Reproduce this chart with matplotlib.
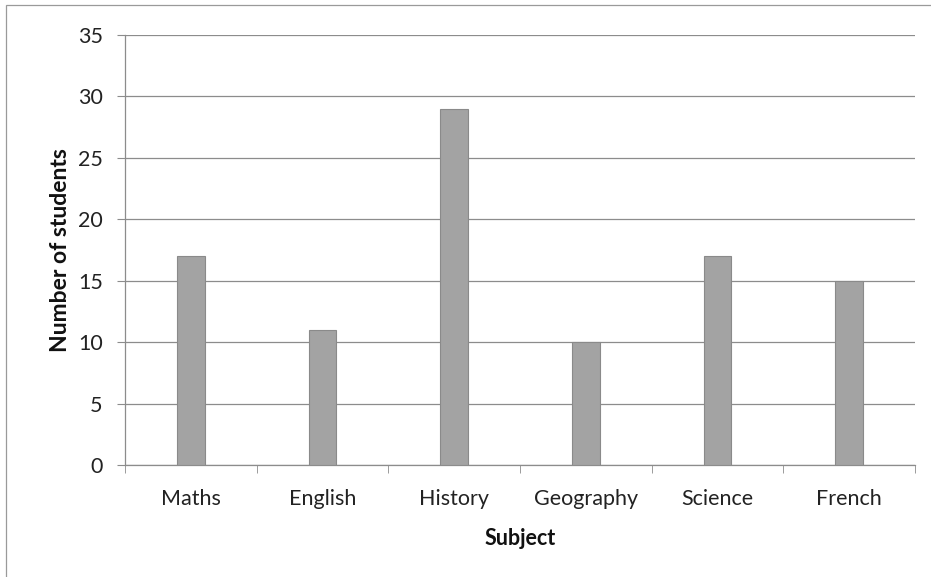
import numpy as np
import matplotlib.pyplot as plt
from matplotlib.patches import Rectangle

subjects = ['Maths', 'English', 'History', 'Geography', 'Science', 'French']
students = [17, 11, 29, 10, 17, 15]
y_ticks = [0, 5, 10, 15, 20, 25, 30, 35]

plt.rcParams['font.family'] = ['Lato', 'DejaVu Sans']

fig = plt.figure(figsize=(9.31, 5.77), dpi=100)
ax = fig.add_axes([125 / 931, 1 - 465 / 577, 790 / 931, 430 / 577])

x = np.arange(len(subjects))
ax.bar(x, students, width=0.21, color='#a3a3a3', edgecolor='#8a8a8a', linewidth=0.8, zorder=3)

ax.set_xlim(-0.5, len(subjects) - 0.5)
ax.set_ylim(0, 35)
ax.set_yticks(y_ticks)
ax.yaxis.grid(True, color='#8c8c8c', linewidth=0.9, zorder=0)
ax.set_axisbelow(True)

ax.set_xticks(x)
ax.set_xticklabels(subjects, fontsize=15.5, color='#222222')
ax.set_xticks(np.arange(len(subjects) + 1) - 0.5, minor=True)
ax.tick_params(axis='x', which='major', length=0, pad=17)
ax.tick_params(axis='x', which='minor', length=6, color='#8c8c8c', direction='out')
ax.tick_params(axis='y', length=6, color='#8c8c8c', labelsize=15.5, labelcolor='#222222', pad=10)

for s in ['top', 'right']:
    ax.spines[s].set_visible(False)
for s in ['left', 'bottom']:
    ax.spines[s].set_color('#8c8c8c')
    ax.spines[s].set_linewidth(0.9)

ax.set_xlabel('Subject', fontsize=15.5, fontweight='bold', labelpad=14, color='#111111')
ax.set_ylabel('Number of students', fontsize=16.5, fontweight='bold', labelpad=5, color='#111111')

# outer chart frame (only top and left visible in the reference)
fig.patches.append(Rectangle((6 / 931, -0.1), 1.2, 1 - 5 / 577 + 0.1,
                             transform=fig.transFigure, fill=False,
                             edgecolor='#9a9a9a', linewidth=0.9))

fig.savefig('out.png', dpi=100)
